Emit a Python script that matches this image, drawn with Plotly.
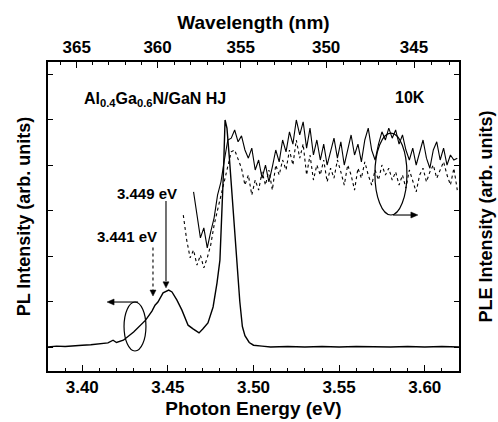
import plotly.graph_objects as go

# ---------------- data ----------------
# PL spectrum (solid), photon energy (eV) vs intensity (arb. units)
pl_energy = [3.380, 3.385, 3.390, 3.395, 3.400, 3.405, 3.410, 3.415, 3.418, 3.420,
             3.424, 3.430, 3.437, 3.4407, 3.4425, 3.4442, 3.4472, 3.4489, 3.4505,
             3.4524, 3.4553, 3.4582, 3.4618, 3.4647, 3.4682, 3.4705, 3.4734, 3.4764,
             3.4787, 3.4804, 3.4815, 3.4825, 3.4834, 3.4845, 3.4860, 3.4875, 3.4890,
             3.4905, 3.4920, 3.4935, 3.4950, 3.4975, 3.500, 3.505, 3.510, 3.520,
             3.530, 3.540, 3.550, 3.560, 3.570, 3.580, 3.590, 3.600, 3.610, 3.620]
pl_intensity = [0.00, 0.02, 0.01, 0.03, 0.04, 0.05, 0.07, 0.09, 0.15, 0.10,
                0.15, 0.33, 0.59, 0.79, 0.92, 0.99, 1.19, 1.23, 1.25,
                1.21, 1.03, 0.81, 0.48, 0.40, 0.31, 0.40, 0.53, 0.88,
                1.41, 1.91, 2.79, 3.89, 4.99, 4.81, 4.11, 3.34, 2.40,
                1.70, 1.00, 0.45, 0.25, 0.10, 0.04, 0.02, 0.00, 0.01,
                0.00, 0.01, 0.00, 0.01, 0.00, 0.00, 0.01, 0.00, 0.01, 0.00]

# PLE spectrum 1 (solid)
ple1_energy = [3.465, 3.467, 3.469, 3.471, 3.473, 3.475, 3.477, 3.479, 3.481, 3.483,
               3.485, 3.487, 3.489, 3.491, 3.493, 3.495, 3.497, 3.499, 3.501, 3.503,
               3.505, 3.507, 3.509, 3.511, 3.513, 3.515, 3.517, 3.519, 3.521, 3.523,
               3.525, 3.527, 3.529, 3.531, 3.533, 3.535, 3.537, 3.539, 3.541, 3.543,
               3.545, 3.547, 3.549, 3.551, 3.553, 3.555, 3.557, 3.559, 3.561, 3.563,
               3.565, 3.567, 3.569, 3.571, 3.573, 3.575, 3.577, 3.579, 3.581, 3.583,
               3.585, 3.587, 3.589, 3.591, 3.593, 3.595, 3.597, 3.599, 3.601, 3.603,
               3.605, 3.607, 3.609, 3.611, 3.613, 3.615, 3.617, 3.619]
ple1_intensity = [3.41, 2.90, 2.40, 2.62, 2.18, 2.53, 2.84, 3.34, 3.63, 4.11,
                  4.55, 4.59, 4.77, 4.51, 4.64, 4.33, 4.15, 4.37, 3.89, 4.11,
                  3.71, 4.00, 3.63, 3.96, 4.33, 4.07, 4.55, 4.29, 4.73, 4.46,
                  4.99, 4.66, 4.95, 4.37, 4.81, 4.22, 4.55, 4.11, 4.46, 4.00,
                  4.33, 4.59, 4.15, 4.51, 4.00, 4.37, 4.66, 4.22, 4.46, 4.07,
                  4.55, 4.81, 4.33, 4.11, 4.46, 4.73, 4.55, 4.81, 4.59, 4.77,
                  4.46, 4.66, 4.33, 4.11, 4.37, 4.00, 4.29, 4.55, 4.15, 3.93,
                  4.33, 4.51, 4.11, 4.37, 4.00, 4.22, 4.11, 4.15]

# PLE spectrum 2 (dotted)
ple2_energy = [3.459, 3.461, 3.463, 3.465, 3.467, 3.469, 3.471, 3.473, 3.475, 3.477,
               3.479, 3.481, 3.483, 3.485, 3.487, 3.489, 3.491, 3.493, 3.495, 3.497,
               3.499, 3.501, 3.503, 3.505, 3.507, 3.509, 3.511, 3.513, 3.515, 3.517,
               3.519, 3.521, 3.523, 3.525, 3.527, 3.529, 3.531, 3.533, 3.535, 3.537,
               3.539, 3.541, 3.543, 3.545, 3.547, 3.549, 3.551, 3.553, 3.555, 3.557,
               3.559, 3.561, 3.563, 3.565, 3.567, 3.569, 3.571, 3.573, 3.575, 3.577,
               3.579, 3.581, 3.583, 3.585, 3.587, 3.589, 3.591, 3.593, 3.595, 3.597,
               3.599, 3.601, 3.603, 3.605, 3.607, 3.609, 3.611, 3.613, 3.615, 3.617,
               3.619]
ple2_intensity = [2.90, 2.35, 1.96, 2.13, 1.80, 2.02, 1.74, 1.96, 2.24, 2.68,
                  3.01, 3.34, 3.67, 4.00, 4.29, 4.33, 4.11, 3.93, 3.56, 3.78,
                  3.34, 3.67, 3.45, 3.85, 3.56, 3.89, 3.45, 4.00, 3.78, 4.11,
                  3.89, 4.33, 4.00, 4.55, 4.15, 4.46, 3.78, 4.22, 3.67, 4.00,
                  3.78, 4.11, 3.63, 3.93, 3.71, 4.11, 3.85, 3.56, 4.00, 3.78,
                  3.45, 3.93, 3.71, 4.07, 3.78, 3.56, 3.89, 3.67, 4.00, 3.78,
                  3.93, 3.67, 3.85, 3.56, 3.78, 3.49, 3.89, 3.67, 3.41, 3.78,
                  3.93, 3.63, 3.85, 4.00, 3.71, 3.89, 4.07, 3.78, 3.56, 3.93,
                  3.45]

energy_ticks = [3.40, 3.45, 3.50, 3.55, 3.60]
energy_labels = ["3.40", "3.45", "3.50", "3.55", "3.60"]
energy_minor = [3.39, 3.41, 3.42, 3.43, 3.44, 3.46, 3.47, 3.48, 3.49,
                3.51, 3.52, 3.53, 3.54, 3.56, 3.57, 3.58, 3.59, 3.61]
wavelength_ticks = [365, 360, 355, 350, 345]
wavelength_minor = [343, 344, 346, 347, 348, 349, 351, 352, 353, 354,
                    356, 357, 358, 359, 361, 362, 363, 364, 366]
intensity_ticks = [0, 1, 2, 3, 4, 5, 6]

HC = 1239.84  # eV*nm
X_RANGE = [3.38, 3.62]
Y_RANGE = [-0.527, 6.264]

FONT = "Liberation Sans, Arial, sans-serif"

fig = go.Figure()
fig.add_trace(go.Scatter(x=pl_energy, y=pl_intensity, mode="lines",
                         line=dict(color="black", width=1.4), xaxis="x", yaxis="y"))
fig.add_trace(go.Scatter(x=ple1_energy, y=ple1_intensity, mode="lines",
                         line=dict(color="black", width=1.1), xaxis="x2", yaxis="y2"))
fig.add_trace(go.Scatter(x=ple2_energy, y=ple2_intensity, mode="lines",
                         line=dict(color="black", width=1.1, dash="dot"), xaxis="x2", yaxis="y2"))

axis_common = dict(showgrid=False, zeroline=False, showline=True, linecolor="black",
                   linewidth=1.5, ticks="inside", tickcolor="black", tickwidth=1.2)
tick_font = dict(size=17, family=FONT, weight="bold", color="black")
title_font = dict(family=FONT, size=19, color="black", weight="bold")
ytitle_font = dict(family=FONT, size=18, color="black", weight="bold")

fig.update_layout(
    width=498, height=422,
    margin=dict(l=48, r=39, t=62, b=51, autoexpand=False),
    paper_bgcolor="white", plot_bgcolor="white",
    showlegend=False,
    font=dict(family=FONT, color="black"),
    xaxis=dict(range=X_RANGE, tickmode="array", tickvals=energy_ticks, ticktext=energy_labels,
               ticklen=6, tickfont=tick_font,
               title=dict(text="Photon Energy (eV)", font=title_font, standoff=6),
               minor=dict(tickmode="array", tickvals=energy_minor,
                          ticks="inside", ticklen=3, tickcolor="black", tickwidth=1.2),
               anchor="y", **axis_common),
    xaxis2=dict(range=X_RANGE, overlaying="x", side="top", anchor="y2",
                tickmode="array", tickvals=[HC / w for w in wavelength_ticks],
                ticktext=[str(w) for w in wavelength_ticks],
                ticklen=6, tickfont=tick_font,
                title=dict(text="Wavelength (nm)", font=title_font, standoff=4),
                minor=dict(tickmode="array", tickvals=[HC / w for w in wavelength_minor],
                           ticks="inside", ticklen=3, tickcolor="black", tickwidth=1.2),
                **axis_common),
    yaxis=dict(range=Y_RANGE, tickmode="array", tickvals=intensity_ticks, ticklen=5,
               showticklabels=False, anchor="x",
               title=dict(text="PL Intensity (arb. units)", font=ytitle_font, standoff=11),
               **axis_common),
    yaxis2=dict(range=Y_RANGE, tickmode="array", tickvals=intensity_ticks, ticklen=5,
                showticklabels=False, overlaying="y", side="right", anchor="x2",
                title=dict(text="PLE Intensity (arb. units)", font=ytitle_font, standoff=20),
                **axis_common),
)

# in-plot labels
lab_font = dict(family=FONT, size=16, color="black", weight="bold")
fig.add_annotation(text="Al<sub>0.4</sub>Ga<sub>0.6</sub>N/GaN HJ", x=3.3999, y=5.45, xref="x", yref="y",
                   showarrow=False, font=lab_font, xanchor="left", yanchor="middle")
fig.add_annotation(text="10K", x=3.5915, y=5.49, xref="x", yref="y",
                   showarrow=False, font=lab_font, xanchor="center", yanchor="middle")
fig.add_annotation(text="3.449 eV", x=3.4565, y=3.37, xref="x", yref="y",
                   showarrow=False, font=dict(lab_font, size=15), xanchor="right", yanchor="middle")
fig.add_annotation(text="3.441 eV", x=3.4448, y=2.42, xref="x", yref="y",
                   showarrow=False, font=dict(lab_font, size=15), xanchor="right", yanchor="middle")

# arrow shafts
fig.add_shape(type="line", x0=3.4489, x1=3.4489, y0=1.45, y1=3.21, xref="x", yref="y",
              line=dict(color="black", width=1.1))
fig.add_shape(type="line", x0=3.4413, x1=3.4413, y0=1.20, y1=2.20, xref="x", yref="y",
              line=dict(color="black", width=1.1, dash="dot"))
fig.add_shape(type="line", x0=3.4326, x1=3.4160, y0=0.989, y1=0.989, xref="x", yref="y",
              line=dict(color="black", width=1.1))
fig.add_shape(type="line", x0=3.5815, x1=3.5945, y0=2.901, y1=2.901, xref="x", yref="y",
              line=dict(color="black", width=1.1))

# arrow heads (pixel-sized triangles anchored at the arrow tips)
def head(x, y, path):
    fig.add_shape(type="path", xref="x", yref="y", xsizemode="pixel", ysizemode="pixel",
                  xanchor=x, yanchor=y, path=path, fillcolor="black",
                  line=dict(color="black", width=0.5))

head(3.4489, 1.30, "M -3 6 L 3 6 L 0 0 Z")
head(3.4413, 1.12, "M -3 6 L 3 6 L 0 0 Z")
head(3.4145, 0.989, "M 0 0 L 7 3 L 7 -3 Z")
head(3.5960, 2.901, "M 0 0 L -7 3 L -7 -3 Z")

# ellipses
fig.add_shape(type="circle", x0=3.4244, x1=3.4372, y0=-0.088, y1=0.989, xref="x", yref="y",
              line=dict(color="black", width=1.2))
fig.add_shape(type="circle", x0=3.5709, x1=3.5896, y0=2.901, y1=4.703, xref="x", yref="y",
              line=dict(color="black", width=1.2))

fig.write_html("out.html")
